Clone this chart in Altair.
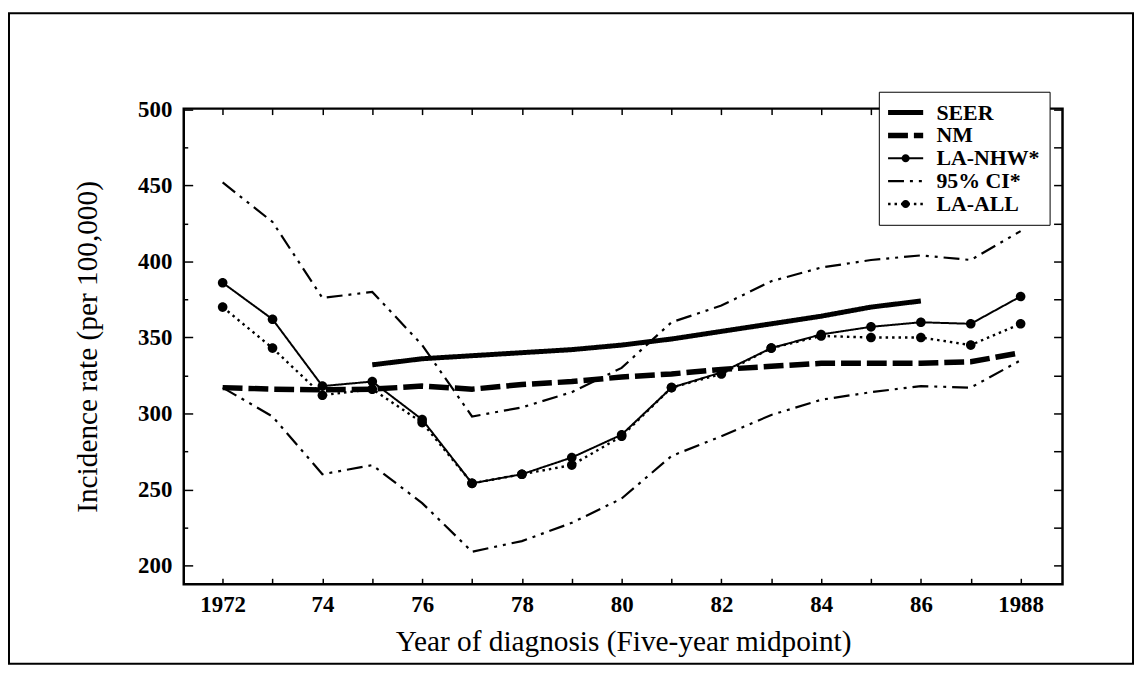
import altair as alt
import pandas as pd

# ---------------- data ----------------
years = list(range(1972, 1989))
seer_years = list(range(1975, 1987))
seer = [332, 336, 338, 340, 342, 345, 349, 354, 359, 364, 370, 374]
nm = [317, 316, 315.5, 316, 318, 316, 319, 321, 324, 326, 329, 331, 333, 333, 333, 334, 340]
la_nhw = [386, 362, 318, 321, 296, 254, 260, 271, 286, 317, 327, 343, 352, 357, 360, 359, 377]
ci_upper = [452, 426, 376, 380, 345, 298, 304, 314, 330, 360, 371, 387, 396, 401, 404, 401, 420]
ci_lower = [317, 298, 260, 266, 241, 209, 216, 228, 244, 272, 285, 299, 309, 314, 318, 317, 335]
la_all = [370, 343, 312, 316, 294, 254, 260, 266, 285, 317, 326, 343, 351, 350, 350, 345, 359]

series_order = ["SEER", "NM", "LA-NHW*", "95% CI*", "LA-ALL"]
y_ticks = [200, 250, 300, 350, 400, 450, 500]
y_minor = [225, 275, 325, 375, 425, 475]
y_right = list(range(200, 501, 25))

x_title = "Year of diagnosis (Five-year midpoint)"
y_title = "Incidence rate (per 100,000)"

# ---------------- long table ----------------
rows = []
def add(name, group, xs, ys):
    for xv, yv in zip(xs, ys):
        rows.append({"series": name, "group": group, "year": xv, "value": yv})

add("SEER", "SEER", seer_years, seer)
add("NM", "NM", years, nm)
add("LA-NHW*", "LA-NHW", years, la_nhw)
add("95% CI*", "CI upper", years, ci_upper)
add("95% CI*", "CI lower", years, ci_lower)
add("LA-ALL", "LA-ALL", years, la_all)
df = pd.DataFrame(rows)

# ---------------- styles ----------------
FONT = "Liberation Serif"
dash_range = [[1, 0], [20, 6], [1, 0], [16, 6, 3, 6, 3, 6], [2.5, 4]]
width_range = [5, 5.5, 2, 2.2, 2.4]
NODOT = "M-0.01,0H0.01"
DOT = "M0.55,0A0.55,0.55,0,1,1,-0.55,0A0.55,0.55,0,1,1,0.55,0Z"
shape_range = [NODOT, NODOT, DOT, NODOT, DOT]
pt_order = [s + " " for s in series_order]

W, H = 885, 479
x_scale = alt.Scale(domain=[1971.22, 1988.84], nice=False, zero=False)
y_scale = alt.Scale(domain=[187.6, 500.6], nice=False, zero=False)

LEG_X, LEG_Y = 700, -17
line_leg = alt.Legend(
    title=None, orient="none", legendX=LEG_X, legendY=LEG_Y, direction="vertical",
    padding=10, strokeColor="black", fillColor="white",
    labelFont=FONT, labelFontSize=22, labelFontWeight="bold", labelColor="black",
    symbolType="M-2.5,0H2.5", symbolSize=200, symbolStrokeColor="black",
    symbolOffset=6, labelOffset=20, rowPadding=1,
)
dot_leg = alt.Legend(
    title=None, orient="none", legendX=LEG_X, legendY=LEG_Y, direction="vertical",
    padding=10,
    labelFont=FONT, labelFontSize=22, labelFontWeight="bold", labelOpacity=0,
    symbolSize=220, symbolFillColor="black",
    symbolOffset=6, labelOffset=20, rowPadding=1,
)

x_main_axis = alt.Axis(
    values=years, tickSize=6, offset=-6, domain=False, grid=False,
    labelExpr="(datum.value == 1972 || datum.value == 1988) ? toString(datum.value) : (datum.value % 2 == 0 ? substring(toString(datum.value), 2, 4) : '')",
    labelFont=FONT, labelFontSize=23, labelFontWeight="bold", labelColor="black",
    labelPadding=9, labelOverlap=False, labelFlush=False,
    tickColor="black", tickWidth=1.5,
    title=x_title, titleFont=FONT, titleFontSize=29.5, titleFontWeight="normal",
    titleColor="black", titlePadding=12,
)
y_main_axis = alt.Axis(
    values=y_ticks, tickSize=9, offset=-9, domain=False, grid=False, format="d",
    labelFont=FONT, labelFontSize=23, labelFontWeight="bold", labelColor="black",
    labelPadding=12, labelOverlap=False, labelFlush=False,
    tickColor="black", tickWidth=1.5,
    title=y_title, titleFont=FONT, titleFontSize=29.5, titleFontWeight="normal",
    titleColor="black", titlePadding=35,
)

base = alt.Chart(df)

lines = base.mark_line(color="black").encode(
    x=alt.X("year:Q", scale=x_scale, axis=x_main_axis),
    y=alt.Y("value:Q", scale=y_scale, axis=y_main_axis),
    strokeDash=alt.StrokeDash("series:N", sort=series_order,
                              scale=alt.Scale(domain=series_order, range=dash_range), legend=line_leg),
    strokeWidth=alt.StrokeWidth("series:N", sort=series_order,
                                scale=alt.Scale(type="ordinal", domain=series_order, range=width_range),
                                legend=line_leg),
    detail="group:N",
)

points = base.transform_filter(
    alt.FieldOneOfPredicate(field="series", oneOf=["LA-NHW*", "LA-ALL"])
).transform_calculate(
    series_pt="datum.series + ' '"
).mark_point(filled=True, color="black", size=310, opacity=1).encode(
    x=alt.X("year:Q", scale=x_scale, axis=None),
    y=alt.Y("value:Q", scale=y_scale, axis=None),
    shape=alt.Shape("series_pt:N", sort=pt_order,
                    scale=alt.Scale(domain=pt_order, range=shape_range), legend=dot_leg),
)

ghost = base.mark_point(opacity=0).encode(
    x=alt.X("year:Q", scale=x_scale,
            axis=alt.Axis(orient="top", values=years, tickSize=6, offset=-6, labels=False,
                          domain=False, grid=False, title=None, tickColor="black", tickWidth=1.5)),
    y=alt.Y("value:Q", scale=y_scale,
            axis=alt.Axis(orient="right", values=y_right, tickSize=9, offset=-9, labels=False,
                          domain=False, grid=False, title=None, tickColor="black", tickWidth=1.5)),
)

minor = base.mark_point(opacity=0).encode(
    x=alt.X("year:Q", scale=x_scale, axis=None),
    y=alt.Y("value:Q", scale=y_scale,
            axis=alt.Axis(orient="left", values=y_minor, tickSize=4, offset=-4, labels=False,
                          domain=False, grid=False, title=None, tickColor="black", tickWidth=1.5)),
)

frame = alt.Chart(pd.DataFrame({"k": [0]})).mark_rect(
    fillOpacity=0, stroke="black", strokeWidth=2
).encode(
    x=alt.value(-176), x2=alt.value(956), y=alt.value(-96), y2=alt.value(559)
)

chart = alt.layer(frame, lines, points, ghost, minor).resolve_axis(
    x="independent", y="independent"
).properties(
    width=W, height=H,
    padding={"left": 177, "top": 99, "right": 73, "bottom": 82},
    autosize=alt.AutoSizeParams(type="none"),
    background="white",
).configure_view(
    stroke="black", strokeWidth=2.5
)

chart.save("out.html", embed_options={"renderer": "svg", "actions": False})
